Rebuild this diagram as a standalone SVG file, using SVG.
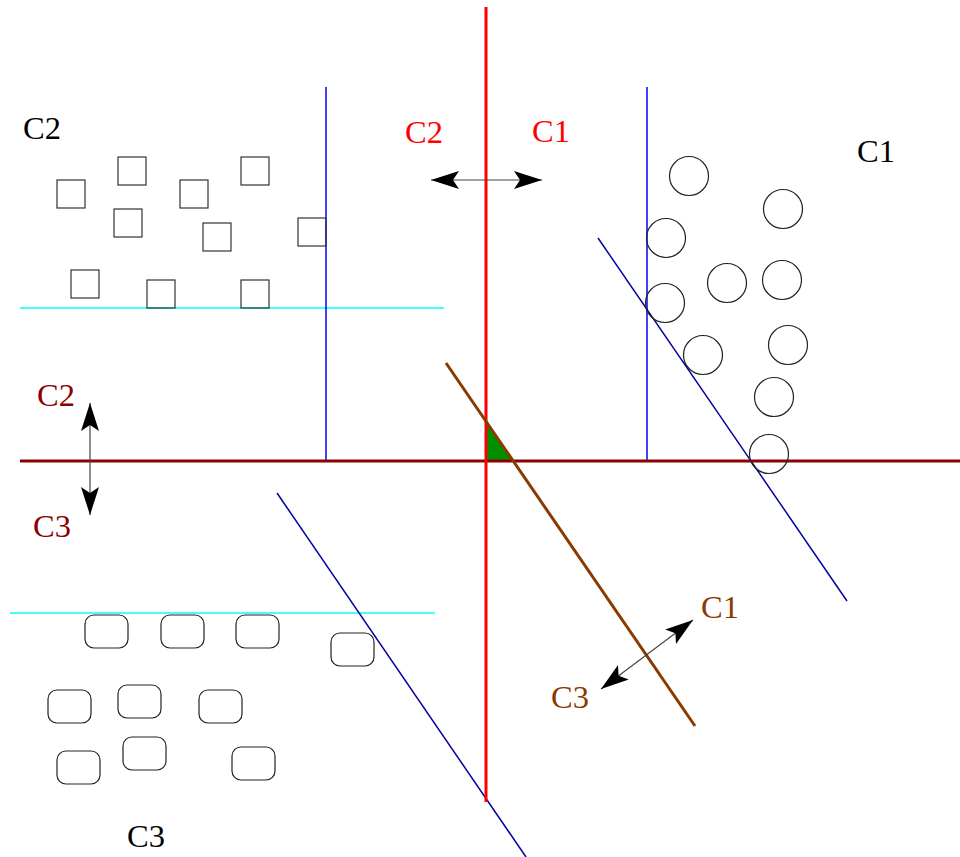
<svg xmlns="http://www.w3.org/2000/svg" width="960" height="857" viewBox="0 0 960 857">
<style>
  text { font-family: "Liberation Serif", "Times New Roman", serif; font-size: 32.5px; }
  .sq { fill: none; stroke: #333; stroke-width: 1.2; }
  .ci { fill: none; stroke: #222; stroke-width: 1.2; }
  .rr { fill: none; stroke: #222; stroke-width: 1.2; }
  .arr { fill: none; stroke: #444; stroke-width: 1.2; marker-start: url(#ah); marker-end: url(#ah); }
  .black { fill: #000; }
  .red { fill: #ff0000; }
  .dred { fill: #8b0000; }
  .brown { fill: #8a3a00; }
</style>
<defs>
  <marker id="ah" markerUnits="userSpaceOnUse" viewBox="0 0 28 18" refX="28" refY="9" markerWidth="28" markerHeight="18" orient="auto-start-reverse">
    <path d="M0,0 L28,9 L0,18 L6,9 Z" fill="#000"/>
  </marker>
</defs>
<rect width="960" height="857" fill="#fff"/>

<g id="boundaries">
  <line x1="20" y1="308" x2="444" y2="308" stroke="#00ffff" stroke-width="1.5"/>
  <line x1="10" y1="613" x2="435" y2="613" stroke="#00ffff" stroke-width="1.5"/>
  <line x1="326" y1="87" x2="326" y2="462" stroke="#0000ff" stroke-width="1.5"/>
  <line x1="647" y1="87" x2="647" y2="462" stroke="#0000ff" stroke-width="1.5"/>
  <line x1="598" y1="238" x2="847" y2="601" stroke="#0000a0" stroke-width="1.5"/>
  <line x1="277" y1="493" x2="526" y2="857" stroke="#0000a0" stroke-width="1.5"/>
  <polygon id="corner" points="486,421 486,462 513,462" fill="#008f00"/>
  <line x1="20" y1="461" x2="960" y2="461" stroke="#8b0000" stroke-width="3"/>
  <line x1="486" y1="7" x2="486" y2="802" stroke="#ff0000" stroke-width="3"/>
  <line x1="446" y1="363" x2="695" y2="726" stroke="#8a3a00" stroke-width="3"/>
</g>

<g id="connectors">
  <line class="arr" x1="431" y1="180" x2="542" y2="180"/>
  <line class="arr" x1="90" y1="403" x2="90" y2="515"/>
  <line class="arr" x1="601" y1="689" x2="693" y2="620"/>
</g>

<g id="squares">
  <rect class="sq" x="57" y="180" width="28" height="28"/>
  <rect class="sq" x="118" y="157" width="28" height="28"/>
  <rect class="sq" x="180" y="180" width="28" height="28"/>
  <rect class="sq" x="241" y="157" width="28" height="28"/>
  <rect class="sq" x="114" y="209" width="28" height="28"/>
  <rect class="sq" x="203" y="223" width="28" height="28"/>
  <rect class="sq" x="298" y="218" width="28" height="28"/>
  <rect class="sq" x="71" y="270" width="28" height="28"/>
  <rect class="sq" x="147" y="280" width="28" height="28"/>
  <rect class="sq" x="241" y="280" width="28" height="28"/>
</g>

<g id="circles">
  <circle class="ci" cx="689" cy="176" r="19.5"/>
  <circle class="ci" cx="783" cy="209" r="19.5"/>
  <circle class="ci" cx="666" cy="238" r="19.5"/>
  <circle class="ci" cx="727" cy="283" r="19.5"/>
  <circle class="ci" cx="782" cy="280" r="19.5"/>
  <circle class="ci" cx="665" cy="303" r="19.5"/>
  <circle class="ci" cx="703" cy="355" r="19.5"/>
  <circle class="ci" cx="788" cy="345" r="19.5"/>
  <circle class="ci" cx="774" cy="397" r="19.5"/>
  <circle class="ci" cx="769" cy="454" r="19.5"/>
</g>

<g id="rounded">
  <rect class="rr" x="85" y="615" width="43" height="33" rx="9"/>
  <rect class="rr" x="161" y="615" width="43" height="33" rx="9"/>
  <rect class="rr" x="236" y="615" width="43" height="33" rx="9"/>
  <rect class="rr" x="331" y="633" width="43" height="33" rx="9"/>
  <rect class="rr" x="48" y="690" width="43" height="33" rx="9"/>
  <rect class="rr" x="118" y="685" width="43" height="33" rx="9"/>
  <rect class="rr" x="199" y="690" width="43" height="33" rx="9"/>
  <rect class="rr" x="57" y="751" width="43" height="33" rx="9"/>
  <rect class="rr" x="123" y="737" width="43" height="33" rx="9"/>
  <rect class="rr" x="232" y="747" width="43" height="33" rx="9"/>
</g>

<g id="labels">
  <text class="black" x="23" y="139">C2</text>
  <text class="black" x="857" y="162">C1</text>
  <text class="black" x="127" y="847">C3</text>
  <text class="red" x="405" y="143">C2</text>
  <text class="red" x="532" y="142">C1</text>
  <text class="dred" x="37" y="406">C2</text>
  <text class="dred" x="33" y="537">C3</text>
  <text class="brown" x="701" y="618">C1</text>
  <text class="brown" x="551" y="708">C3</text>
</g>
</svg>
